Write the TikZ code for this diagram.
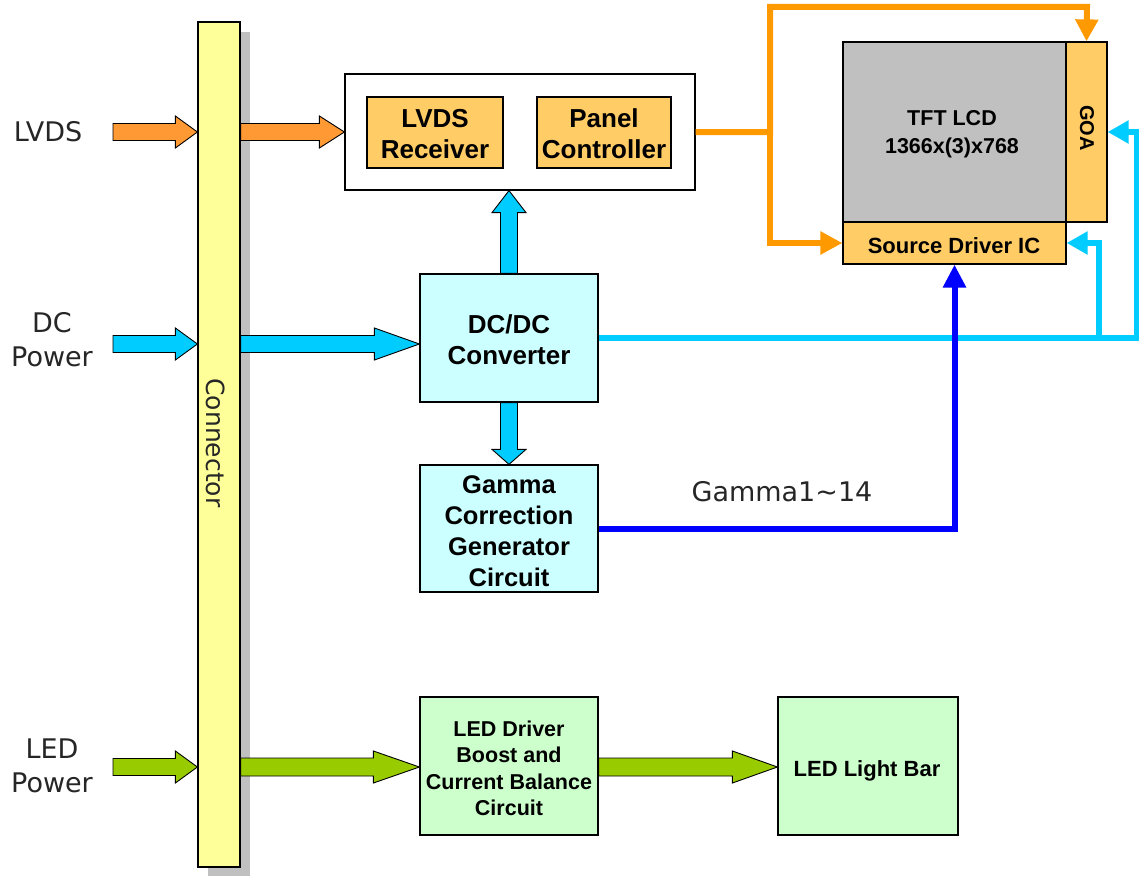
\documentclass[tikz,border=0pt]{standalone}
\usepackage{fontspec}
\setmainfont{DejaVu Sans}
\newfontfamily\bfont{Liberation Sans}
\usetikzlibrary{arrows.meta,calc}
\definecolor{connY}{RGB}{255,255,153}
\definecolor{boxO}{RGB}{255,204,102}
\definecolor{boxG}{RGB}{192,192,192}
\definecolor{boxC}{RGB}{204,255,255}
\definecolor{boxL}{RGB}{204,255,204}
\definecolor{arrO}{RGB}{255,153,51}
\definecolor{arrC}{RGB}{0,204,255}
\definecolor{arrG}{RGB}{153,204,0}
\definecolor{lineO}{RGB}{255,153,0}
\definecolor{lineB}{RGB}{0,0,255}
\definecolor{shadowG}{RGB}{192,192,192}
% horizontal block arrow: start, end, fill, head length, shaft half, head half
\newcommand\hblockarrow[6]{%
  \filldraw[fill=#3,draw=black,line width=0.9pt,line join=miter] let \p1=#1, \p2=#2, \n1={sign(\x2-\x1)*#4} in
  ({\x1},{\y1+#5}) -- ({\x2-\n1},{\y1+#5}) -- ({\x2-\n1},{\y1+#6}) -- ({\x2},{\y1})
  -- ({\x2-\n1},{\y1-#6}) -- ({\x2-\n1},{\y1-#5}) -- ({\x1},{\y1-#5}) -- cycle;}
% vertical block arrow
\newcommand\vblockarrow[6]{%
  \filldraw[fill=#3,draw=black,line width=0.9pt,line join=miter] let \p1=#1, \p2=#2, \n1={sign(\y2-\y1)*#4} in
  ({\x1+#5},{\y1}) -- ({\x1+#5},{\y2-\n1}) -- ({\x1+#6},{\y2-\n1}) -- ({\x1},{\y2})
  -- ({\x1-#6},{\y2-\n1}) -- ({\x1-#5},{\y2-\n1}) -- ({\x1-#5},{\y1}) -- cycle;}
\tikzset{
  blk/.style={draw=black, line width=1.2pt, inner sep=0pt, align=center,
    font=\bfont\bfseries\fontsize{26}{31}\selectfont},
  lbl/.style={inner sep=0pt, align=center, text=black!85,
    font=\fontsize{27}{34}\selectfont},
  txt/.style={inner sep=0pt, align=center, font=\bfont\bfseries\fontsize{26}{31}\selectfont},
  oline/.style={draw=lineO, line width=6pt, -{Triangle[length=22pt,width=22pt]}},
  cline/.style={draw=arrC, line width=6pt, -{Triangle[length=21pt,width=22pt]}},
  bline/.style={draw=lineB, line width=6pt, -{Triangle[length=23pt,width=22pt]}},
}
\begin{document}
\begin{tikzpicture}[x=1pt,y=-1pt]
\useasboundingbox (0,0) rectangle (1139,875);
\fill[white] (0,0) rectangle (1139,875);

% connector with shadow
\node[fill=shadowG, inner sep=0pt, minimum width=42pt, minimum height=845pt] (connshadow) at (229,455) {};
\node[draw=black, line width=1.2pt, fill=connY, inner sep=0pt, minimum width=42pt, minimum height=845pt] (conn) at (219,444.5) {};
\node[inner sep=0pt, rotate=-90, text=black!85, font=\fontsize{25}{30}\selectfont] (connlbl) at (216,443) {Connector};

% upper block
\node[draw=black, line width=1.2pt, fill=white, minimum width=350pt, minimum height=116pt] (outer) at (520,132) {};
\node[blk, fill=boxO, minimum width=136pt, minimum height=71pt] (lvdsrx) at (435,132.5) {};
\node[txt] (lvdsrxt) at (435,134) {LVDS\\Receiver};
\node[blk, fill=boxO, minimum width=134pt, minimum height=71pt] (panel) at (604,132.5) {};
\node[txt] (panelt) at (604,134) {Panel\\Controller};

% panel
\node[blk, fill=boxG, minimum width=223pt, minimum height=180pt] (tft) at (954.5,132) {};
\node[txt, font=\bfont\bfseries\fontsize{21.5}{28}\selectfont] (tftt) at (952,134) {TFT LCD\\1366x(3)x768};
\node[blk, fill=boxO, minimum width=41pt, minimum height=180pt] (goa) at (1086.5,132) {};
\node[inner sep=0pt, rotate=-90, font=\bfont\bfseries\fontsize{20}{24}\selectfont] (goalbl) at (1087,128) {GOA};
\node[blk, fill=boxO, minimum width=223pt, minimum height=42pt] (src) at (954.5,243) {};
\node[txt, font=\bfont\bfseries\fontsize{22}{26}\selectfont] (srct) at (954,246) {Source Driver IC};

% power blocks
\node[blk, fill=boxC, minimum width=178pt, minimum height=128pt] (dcdc) at (509,338) {};
\node[txt] (dcdct) at (509,340) {DC/DC\\Converter};
\node[blk, fill=boxC, minimum width=178pt, minimum height=127pt] (gamma) at (509,528.5) {};
\node[txt, font=\bfont\bfseries\fontsize{25.5}{31}\selectfont] (gammat) at (509,531) {Gamma\\Correction\\Generator\\Circuit};
\node[blk, fill=boxL, minimum width=178pt, minimum height=138pt] (led) at (509,766) {};
\node[txt, font=\bfont\bfseries\fontsize{21.5}{26.5}\selectfont] (ledt) at (509,768.5) {LED Driver\\Boost and\\Current Balance\\Circuit};
\node[blk, fill=boxL, minimum width=180pt, minimum height=138pt] (bar) at (868,766) {};
\node[txt, font=\bfont\bfseries\fontsize{22}{26}\selectfont] (bart) at (867,771) {LED Light Bar};

% labels
\node[lbl] (lvdslbl) at (48,132) {LVDS};
\node[lbl] (dclbl) at (52,340) {DC\\Power};
\node[lbl] (ledlbl) at (52,766) {LED\\Power};
\node[lbl] (gammalbl) at (782,492) {Gamma1\textasciitilde14};

% free ends and junctions
\coordinate (lvdsin) at (113,132);
\coordinate (dcin) at (113,344);
\coordinate (ledin) at (113,767);
\coordinate (obr) at (770,132);
\coordinate (otop) at (1087,7);
\coordinate (cj1) at (1099,338);
\coordinate (cj2) at (1137,338);

% block arrows
\hblockarrow{(lvdsin)}{(conn.west |- lvdsin)}{arrO}{22pt}{8.5pt}{16pt}
\hblockarrow{(conn.east |- lvdsin)}{(outer.west |- lvdsin)}{arrO}{25pt}{8.5pt}{16pt}
\hblockarrow{(dcin)}{(conn.west |- dcin)}{arrC}{22pt}{8.5pt}{16pt}
\hblockarrow{(conn.east |- dcin)}{(dcdc.west |- dcin)}{arrC}{45pt}{8.5pt}{16pt}
\hblockarrow{(ledin)}{(conn.west |- ledin)}{arrG}{22pt}{8.5pt}{16pt}
\hblockarrow{(conn.east |- ledin)}{(led.west |- ledin)}{arrG}{46pt}{9pt}{16pt}
\hblockarrow{(led.east |- ledin)}{(bar.west |- ledin)}{arrG}{45pt}{9pt}{16pt}
\vblockarrow{(dcdc.north)}{(outer.south)}{arrC}{22pt}{8.5pt}{17pt}
\vblockarrow{(dcdc.south)}{(gamma.north)}{arrC}{15pt}{8.5pt}{17pt}

% signal lines
\draw[oline] (outer.east) -- (obr) |- (otop) -- (goa.north);
\draw[oline] (obr) |- (src.west);
\draw[cline] (dcdc.east) -- (cj2) |- (goa.east);
\draw[cline] (cj1) |- (src.east);
\draw[bline] (gamma.east) -| (src.south);
\end{tikzpicture}
\end{document}
